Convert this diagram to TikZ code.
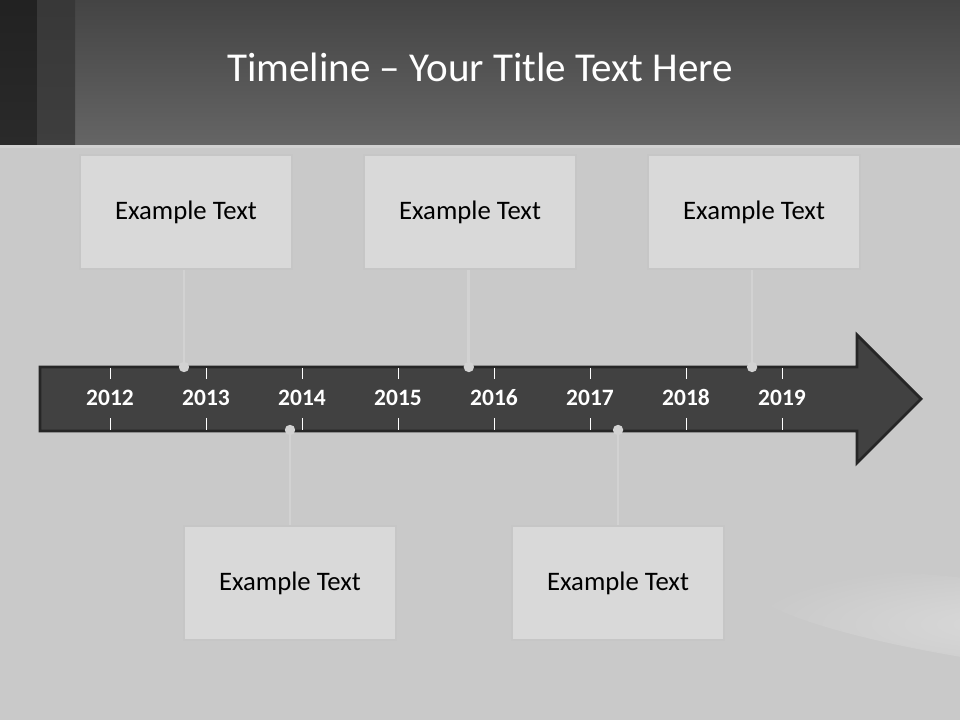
\documentclass[tikz,border=0pt]{standalone}
\usepackage{fontspec}
\setmainfont{Carlito}
\usetikzlibrary{positioning}
\definecolor{bgc}{HTML}{C9C9C9}
\definecolor{sheen}{HTML}{D9D9D9}
\definecolor{hdtop}{HTML}{444444}
\definecolor{hdbot}{HTML}{656565}
\definecolor{stripa}{HTML}{2A2A2A}
\definecolor{stripb}{HTML}{3E3E3E}
\definecolor{boxfill}{HTML}{D9D9D9}
\definecolor{boxline}{HTML}{C6C6C6}
\definecolor{arrowfill}{HTML}{414141}
\definecolor{arrowline}{HTML}{262626}
\definecolor{stemc}{HTML}{D2D2D2}
\tikzset{
  box/.style={draw=boxline, fill=boxfill, line width=1.4pt, minimum width=5.3cm,
    minimum height=2.85cm, inner sep=0pt, font=\fontsize{19}{22}\selectfont},
  dot/.style={circle, fill=stemc, minimum size=0.26cm, inner sep=0pt},
  stem/.style={draw=stemc, line width=2pt},
  year/.style={text=white, font=\bfseries\fontsize{16.7}{19}\selectfont,
    text height=1.6ex, text depth=0pt, inner sep=0pt},
  tick/.style={draw=white, line width=0.7pt},
  title/.style={text=white, font=\fontsize{29.2}{35}\selectfont}
}

\begin{document}
\begin{tikzpicture}[x=0.025cm, y=-0.025cm, node distance=1.75cm]
    \useasboundingbox (0,0) rectangle (960,720);

    % Background and header
    \fill[bgc] (0,0) rectangle (960,720);
    \shade[inner color=sheen, outer color=bgc, rotate around={-8:(1010,624)}] (1010,624) ellipse (260 and 40);
    \shade[top color=hdtop, bottom color=hdbot] (0,0) rectangle (960,145);
    \shade[top color=stripa!80!black, bottom color=stripa] (0,0) rectangle (37,145);
    \shade[top color=stripb!90!black, bottom color=stripb] (37,0) rectangle (75,145);
    \fill[boxline!80!white] (0,145) rectangle (960,148);
    \node[title] (title) at (480,67) {Timeline – Your Title Text Here};

    % Boxes
    \node[box] (b1) at (186,212) {Example Text};
    \node[box, right=of b1] (b2) {Example Text};
    \node[box, right=of b2] (b3) {Example Text};
    \node[box] (b4) at (290,583) {Example Text};
    \node[box, right=2.85cm of b4] (b5) {Example Text};

    % Arrow
    \filldraw[fill=arrowfill, draw=arrowline, line width=2pt, line join=miter]
      (40,367) -- (857,367) -- (857,335) -- (921,399) -- (857,463) -- (857,431) -- (40,431) -- cycle;
    \foreach \yr [count=\i from 0] in {2012,...,2019} {
      \draw[tick] ({110+96*\i},368) -- ({110+96*\i},379);
      \draw[tick] ({110+96*\i},418) -- ({110+96*\i},430);
      \node[year] (y\yr) at ({110+96*\i},400) {\yr};
    }

    % Dots on the arrow
    \node[dot] (d1) at ([xshift=-0.05cm]b1.south |- 0,367) {};
    \node[dot] (d2) at ([xshift=-0.03cm]b2.south |- 0,367) {};
    \node[dot] (d3) at ([xshift=-0.05cm]b3.south |- 0,367) {};
    \node[dot] (d4) at (b4.north |- 0,430) {};
    \node[dot] (d5) at (b5.north |- 0,430) {};

    % Connect the nodes
    \draw[stem] (b1.south -| d1) -- (d1);
    \draw[stem] (b2.south -| d2) -- (d2);
    \draw[stem] (b3.south -| d3) -- (d3);
    \draw[stem] (b4) -- (d4);
    \draw[stem] (b5) -- (d5);
\end{tikzpicture}
\end{document}
